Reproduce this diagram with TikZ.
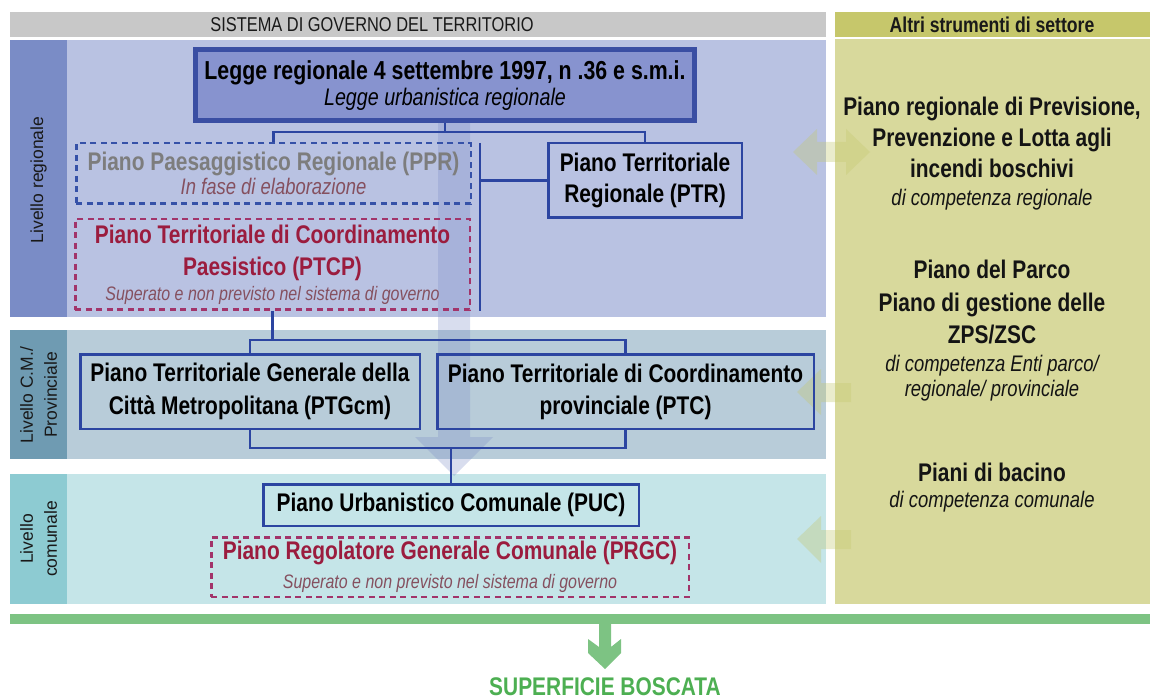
\documentclass[tikz,border=0pt]{standalone}
\usepackage{fontspec}
\setmainfont{Liberation Sans}[FakeStretch=0.82]
\newfontfamily\widesans{Liberation Sans}
\usetikzlibrary{calc}

\definecolor{hdrgray}{HTML}{C8C8C8}
\definecolor{hdrolive}{HTML}{C6C76B}
\definecolor{paneolive}{HTML}{D8D99C}
\definecolor{regstrip}{HTML}{7A8CC6}
\definecolor{regfill}{HTML}{B9C2E2}
\definecolor{provstrip}{HTML}{6F9BB2}
\definecolor{provfill}{HTML}{B8CCD9}
\definecolor{comstrip}{HTML}{8DCBD2}
\definecolor{comfill}{HTML}{C5E5E8}
\definecolor{planblue}{HTML}{2C45A1}
\definecolor{pprblue}{HTML}{3551A8}
\definecolor{leggefill}{HTML}{8793CF}
\definecolor{leggeborder}{HTML}{3A4EA3}
\definecolor{oldred}{HTML}{9B1C3E}
\definecolor{olddash}{HTML}{A2346A}
\definecolor{notered}{HTML}{85505F}
\definecolor{titlegray}{HTML}{7D7D7D}
\definecolor{greenbar}{HTML}{7DC383}
\definecolor{greentext}{HTML}{4DAF52}
\definecolor{flowblue}{HTML}{7F8FC8}
\definecolor{flowolive}{HTML}{C4C870}

\newcommand\plantxt{\fontsize{25.5}{31}\selectfont\bfseries}
\newcommand\notetxt{\fontsize{22.5}{24}\selectfont\mdseries\itshape}
\newcommand\smallnote{\fontsize{19.5}{24}\selectfont\mdseries\itshape}
\newcommand\sidetxt{\widesans\fontsize{17.5}{24}\selectfont}

\begin{document}
\begin{tikzpicture}[x=1pt, y=-1pt,
    every node/.style={inner sep=0pt},
    planline/.style={draw=planblue, line width=2.5pt},
    planbox/.style={draw=planblue, line width=2.5pt, align=center, font=\plantxt},
    oldbox/.style={draw=olddash, line width=2.5pt, dash pattern=on 6pt off 4.5pt, align=center},
    levellabel/.style={rotate=90, align=center, font=\sidetxt, text=black!90},
    sidearrow/.style={fill=flowolive, fill opacity=0.35},
    othertxt/.style={align=center, font=\plantxt, text=black!92}]
    \useasboundingbox (0,0) rectangle (1150,700);

    % Headers
    \fill[hdrgray] (10,12) rectangle (826,37);
    \fill[hdrolive] (835,12) rectangle (1150,37);
    \node[font=\fontsize{20}{22}\selectfont, text=black!90] (sysgov) at (372,25) {SISTEMA DI GOVERNO DEL TERRITORIO};
    \node[font=\fontsize{21.5}{22}\selectfont\bfseries, text=black!90] (altri) at (992,25) {Altri strumenti di settore};

    % Fasce dei livelli
    \fill[regfill] (10,40) rectangle (826,317);
    \fill[regstrip] (10,40) rectangle (67,317);
    \fill[provfill] (10,330) rectangle (826,459);
    \fill[provstrip] (10,330) rectangle (67,459);
    \fill[comfill] (10,474) rectangle (826,604);
    \fill[comstrip] (10,474) rectangle (67,604);
    \fill[paneolive] (835,39) rectangle (1150,604);
    \node[levellabel] (lreg) at (38.5,180) {Livello regionale};
    \node[levellabel] (lprov) at (38.5,395) {Livello C.M./\\ Provinciale};
    \node[levellabel] (lcom) at (38.5,539) {Livello\\ comunale};

    % Frecce trasparenti
    \fill[flowblue, fill opacity=0.3] (438,123) -- (470,123) -- (470,437) -- (493,437)
        -- (454,476) -- (415,437) -- (438,437) -- cycle;
    \fill[sidearrow] (793,152) -- (817,129) -- (817,142) -- (846,142) -- (846,129) -- (870,152)
        -- (846,175) -- (846,162) -- (817,162) -- (817,175) -- cycle;
    \fill[sidearrow] (797,392) -- (821,369) -- (821,383) -- (851,383) -- (851,402) -- (821,402)
        -- (821,415) -- cycle;
    \fill[sidearrow] (797,539) -- (821,516) -- (821,530) -- (851,530) -- (851,549) -- (821,549)
        -- (821,563) -- cycle;

    % Livello regionale
    \node[planbox, line width=5pt, draw=leggeborder, fill=leggefill, minimum width=499pt,
        minimum height=71pt, font=\fontsize{26}{26}\selectfont\bfseries] (legge) at (445,85.5)
        {Legge regionale 4 settembre 1997, n .36 e s.m.i.\\
         {\fontsize{24}{26}\selectfont\mdseries\itshape Legge urbanistica regionale}};
    \node[oldbox, draw=pprblue, minimum width=394.5pt, minimum height=60.5pt,
        font=\fontsize{25.5}{24}\selectfont\bfseries, text=titlegray] (ppr) at (273.5,173.5)
        {Piano Paesaggistico Regionale (PPR)\\ {\notetxt\color{notered}In fase di elaborazione}};
    \node[oldbox, minimum width=394.5pt, minimum height=90.5pt,
        font=\fontsize{25.5}{32}\selectfont\bfseries, text=oldred] (ptcp) at (272.5,264.5)
        {Piano Territoriale di Coordinamento\\ Paesistico (PTCP)\\[-7pt]
         {\smallnote\color{notered}Superato e non previsto nel sistema di governo}};
    \node[planbox, minimum width=193.5pt, minimum height=74.5pt] (ptr) at (645,180.5)
        {Piano Territoriale\\ Regionale (PTR)};
    \coordinate (regbus) at (452,132);
    \coordinate (rtop) at (480,143);
    \coordinate (rbot) at (480,311);
    \draw[planline] (legge.south) -- (legge.south |- regbus);
    \draw[planline] (ppr.north) -- (ppr.north |- regbus) -| (ptr.north);
    \draw[planline] (rtop) -- (rbot);
    \draw[planline] (ptr.west) -- (ptr.west -| rtop);

    % Livello C.M./provinciale
    \node[planbox, minimum width=339.5pt, minimum height=74.5pt,
        font=\fontsize{25.5}{33}\selectfont\bfseries] (ptg) at (250,391.5)
        {Piano Territoriale Generale della\\ Città Metropolitana (PTGcm)};
    \node[planbox, minimum width=376.5pt, minimum height=74.5pt,
        font=\fontsize{25.5}{32}\selectfont\bfseries] (ptc) at (625.5,391.5)
        {Piano Territoriale di Coordinamento\\ provinciale (PTC)};
    \coordinate (provbus) at (0,340);
    \coordinate (lowbus) at (0,448);
    \draw[planline] (ptcp.south) -- (ptcp.south |- provbus);
    \draw[planline] (ptg.north) -- (ptg.north |- provbus) -| (ptc.north);
    \draw[planline] (ptg.south) -- (ptg.south |- lowbus) -| (ptc.south);

    % Livello comunale
    \node[planbox, minimum width=375.5pt, minimum height=41.5pt] (puc) at (451,505)
        {Piano Urbanistico Comunale (PUC)};
    \node[oldbox, minimum width=477.5pt, minimum height=59.5pt,
        font=\fontsize{25.5}{29}\selectfont\bfseries, text=oldred] (prgc) at (450,567)
        {Piano Regolatore Generale Comunale (PRGC)\\
         {\smallnote\color{notered}Superato e non previsto nel sistema di governo}};
    \draw[planline] (puc.north) -- (puc.north |- lowbus);

    % Altri strumenti
    \node[othertxt] (incendi) at (992,153.5)
        {Piano regionale di Previsione,\\ Prevenzione e Lotta agli\\ incendi boschivi\\[-3pt]
         {\notetxt di competenza regionale}};
    \node[othertxt, font=\fontsize{25.5}{32.5}\selectfont\bfseries] (parco) at (992,331)
        {Piano del Parco\\ Piano di gestione delle\\ ZPS/ZSC\\[-5pt]
         {\notetxt di competenza Enti parco/}\\[-7pt] {\notetxt regionale/ provinciale}};
    \node[othertxt] (bacino) at (992,488)
        {Piani di bacino\\[-5pt] {\notetxt di competenza comunale}};

    % Superficie boscata
    \fill[greenbar] (10,614) rectangle (1150,624);
    \fill[greenbar] (599,624) -- (611,624) -- (611,647) -- (621,639) -- (621,653) -- (605,669)
        -- (588,653) -- (588,639) -- (599,647) -- cycle;
    \node[anchor=base, font=\plantxt, text=greentext] (bosco) at (605,695) {SUPERFICIE BOSCATA};
\end{tikzpicture}
\end{document}
